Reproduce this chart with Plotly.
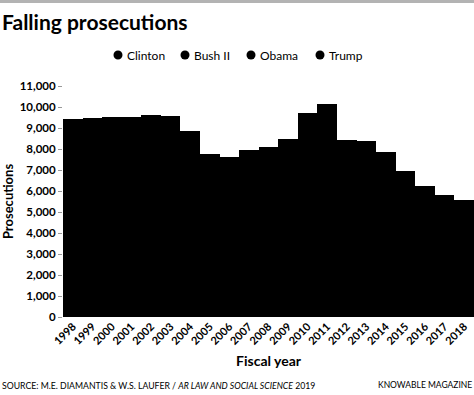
import plotly.graph_objects as go

years = [str(y) for y in range(1998, 2019)]
prosecutions = [9430, 9480, 9540, 9540, 9620, 9550, 8840, 7750, 7600, 7950,
                8110, 8460, 9700, 10130, 8410, 8370, 7840, 6940, 6250, 5800, 5590]
presidents = ["Clinton", "Bush II", "Obama", "Trump"]
y_ticks = list(range(0, 11001, 1000))
y_tick_labels = [f"{v:,}" for v in y_ticks]

FONT = "Lato"
W, H = 474, 395
L, R, T, B = 63, 0, 86, 78
plot_w = W - L - R
plot_h = H - T - B

def px_x(px):
    return (px - L) / plot_w

def px_y(py):
    return (H - B - py) / plot_h

fig = go.Figure()
fig.add_trace(go.Bar(x=years, y=prosecutions, marker=dict(color="black", line=dict(width=0)),
                     showlegend=False, hoverinfo="x+y"))

# legend entries (circle + label) drawn at fixed pixel spots
legend_circle_px = [118, 185, 251, 320]
legend_y_px = 55
shapes = [dict(type="rect", xref="paper", yref="paper",
               x0=px_x(0), x1=1, y0=px_y(3), y1=px_y(0),
               fillcolor="#b3b3b3", line=dict(width=0), layer="above")]
annotations = [dict(text="<b>Falling prosecutions</b>", xref="paper", yref="paper",
                    x=px_x(0), y=px_y(21), xanchor="left", yanchor="middle", showarrow=False,
                    font=dict(size=21, family=FONT, color="black"))]
for name, cx in zip(presidents, legend_circle_px):
    shapes.append(dict(type="circle", xref="paper", yref="paper",
                       xsizemode="pixel", ysizemode="pixel",
                       xanchor=px_x(cx), yanchor=px_y(legend_y_px),
                       x0=-4.5, x1=4.5, y0=-4.5, y1=4.5,
                       fillcolor="black", line=dict(width=0)))
    annotations.append(dict(text=name, xref="paper", yref="paper",
                            x=px_x(cx + 7), y=px_y(legend_y_px), xanchor="left", yanchor="middle",
                            showarrow=False, font=dict(size=12, family=FONT, color="black")))

annotations += [
    dict(text="SOURCE: M.E. DIAMANTIS &amp; W.S. LAUFER / <i>AR LAW AND SOCIAL SCIENCE</i> 2019",
         xref="paper", yref="paper", x=px_x(0), y=px_y(385),
         xanchor="left", yanchor="middle", showarrow=False,
         font=dict(size=8.7, family=FONT, color="black")),
    dict(text="KNOWABLE MAGAZINE", xref="paper", yref="paper", x=1,
         y=px_y(385), xanchor="right", yanchor="middle", showarrow=False,
         font=dict(size=8.5, family=FONT, color="black")),
]

fig.update_layout(
    width=W, height=H,
    margin=dict(l=L, r=R, t=T, b=B, autoexpand=False),
    paper_bgcolor="white", plot_bgcolor="white",
    bargap=0,
    showlegend=False,
    font=dict(family=FONT, color="black"),
    xaxis=dict(type="category", tickangle=-45, showline=False, ticks="", automargin=False,
               tickfont=dict(size=11, family=FONT, color="black", weight="bold"),
               title=dict(text="<b>Fiscal year</b>", font=dict(size=14, family=FONT), standoff=10),
               showgrid=False, fixedrange=True),
    yaxis=dict(range=[0, 11000], tickvals=y_ticks, ticktext=y_tick_labels, automargin=False,
               ticks="outside", ticklen=4, tickcolor="#999999", tickwidth=1,
               tickfont=dict(size=11.5, family=FONT, color="black", weight="bold"),
               showgrid=False, zeroline=False, showline=False,
               title=dict(text="<b>Prosecutions</b>", font=dict(size=13, family=FONT), standoff=6),
               fixedrange=True),
    shapes=shapes,
    annotations=annotations,
)

fig.write_html("out.html", config={"displayModeBar": False},
               post_script="document.body.style.margin='0';document.body.style.overflow='hidden';")
